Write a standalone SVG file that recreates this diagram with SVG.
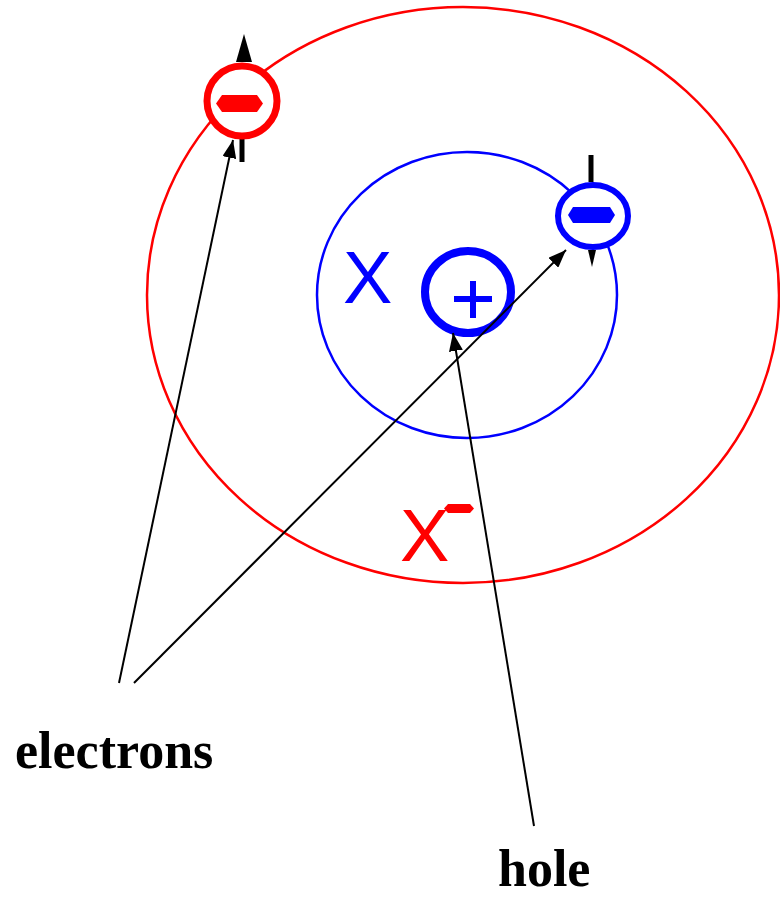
<svg xmlns="http://www.w3.org/2000/svg" width="780" height="897" viewBox="0 0 780 897">
<style>
.lbl{font-family:"Liberation Serif","Times New Roman",serif;font-weight:bold;font-size:52px;fill:#000}
.sym{font-family:"Liberation Sans",Arial,sans-serif;font-size:74px}
.conn{stroke:#000;stroke-width:2;fill:none;marker-end:url(#ah)}
</style>
<defs>
<marker id="ah" markerUnits="userSpaceOnUse" markerWidth="20" markerHeight="14" refX="18" refY="7" orient="auto">
<path d="M0,0 L18,7 L0,14 Z" fill="#000"/>
</marker>
</defs>
<rect width="780" height="897" fill="#fff"/>
<g id="xminus">
<ellipse cx="463" cy="295" rx="316" ry="288" fill="none" stroke="#f00" stroke-width="2.5"/>
<text class="sym" x="400" y="561" fill="#f00">X</text>
<path d="M448,504 L470,504 L474,508.5 L470,513 L448,513 L444,508.5 Z" fill="#f00"/>
</g>
<g id="x">
<ellipse cx="467" cy="295" rx="150" ry="143" fill="none" stroke="#00f" stroke-width="2.5"/>
<text class="sym" x="343" y="303" fill="#00f">X</text>
</g>
<g id="hole">
<ellipse cx="468" cy="292" rx="43" ry="41" fill="none" stroke="#00f" stroke-width="8"/>
<path d="M454,299 H492 M473,281 V318" stroke="#00f" stroke-width="6" fill="none"/>
</g>
<g id="electron-red">
<path d="M236,62 L244,34 L252,62 Z" fill="#000"/>
<path d="M242,137 V162" stroke="#000" stroke-width="5"/>
<ellipse cx="242" cy="101" rx="35" ry="35" fill="#fff" stroke="#f00" stroke-width="7"/>
<path d="M222,95 L257,95 L263,103.5 L257,112 L222,112 L216,103.5 Z" fill="#f00"/>
</g>
<g id="electron-blue">
<path d="M591,155 V182" stroke="#000" stroke-width="5"/>
<path d="M588,250 L592,267 L596,250 Z" fill="#000"/>
<ellipse cx="593" cy="216" rx="35" ry="31" fill="#fff" stroke="#00f" stroke-width="6"/>
<path d="M573,207 L610,207 L615,215 L610,223 L573,223 L568,215 Z" fill="#00f"/>
</g>
<g id="connectors">
<line class="conn" x1="119" y1="683" x2="233" y2="140"/>
<line class="conn" x1="134" y1="683" x2="566" y2="250"/>
<line class="conn" x1="534" y1="826" x2="453" y2="333"/>
</g>
<g id="labels">
<text class="lbl" x="15" y="768">electrons</text>
<text class="lbl" x="498" y="886">hole</text>
</g>
</svg>
